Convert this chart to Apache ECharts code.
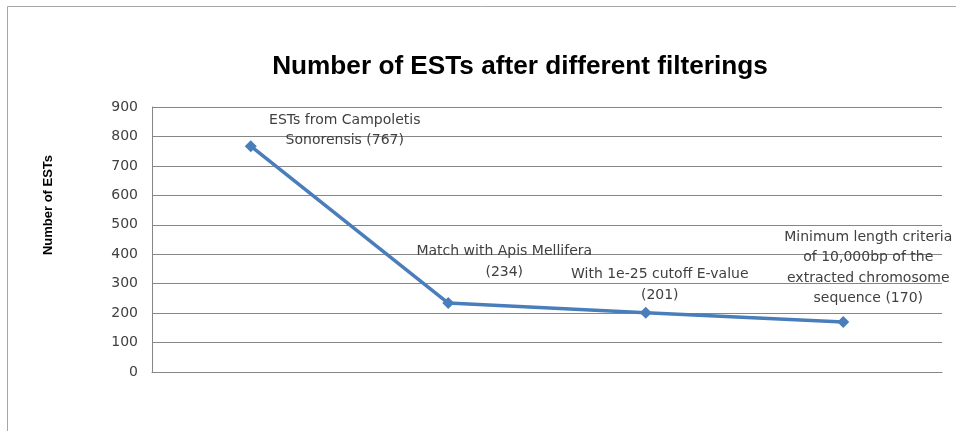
<!DOCTYPE html>
<html>
<head>
<meta charset="utf-8">
<script src="https://cdn.jsdelivr.net/npm/echarts@6/dist/echarts.min.js"></script>
<style>
  html, body { margin: 0; padding: 0; background: #fff; }
  #chart { width: 956px; height: 431px; }
</style>
</head>
<body>
<div id="chart"></div>
<script>
// Filtering stages, EST counts remaining after each stage
const stages = [
  'ESTs from Campoletis\nSonorensis',
  'Match with Apis Mellifera',
  'With 1e-25 cutoff E-value',
  'Minimum length criteria\nof 10,000bp of the\nextracted chromosome\nsequence'
];
const estCounts = [767, 234, 201, 170];
const pointLabels = [
  'ESTs from Campoletis\nSonorensis (767)',
  'Match with Apis Mellifera\n(234)',
  'With 1e-25 cutoff E-value\n(201)',
  'Minimum length criteria\nof 10,000bp of the\nextracted chromosome\nsequence (170)'
];
const yTicks = [0, 100, 200, 300, 400, 500, 600, 700, 800, 900];

// where each point's caption sits relative to its marker
const captionShift = [[94, -16], [56, -41], [14, -28], [25, -54]];

const chart = echarts.init(document.getElementById('chart'));

const seriesData = estCounts.map((v, i) => ({
  value: v,
  label: {
    show: true,
    position: 'inside',
    offset: captionShift[i],
    formatter: () => pointLabels[i]
  }
}));

chart.setOption({
  animation: false,
  backgroundColor: '#ffffff',
  title: {
    text: 'Number of ESTs after different filterings',
    left: 515,
    top: 49,
    textAlign: 'center',
    textStyle: {
      fontFamily: '"Liberation Sans", sans-serif',
      fontWeight: 'bold',
      fontSize: 26.2,
      color: '#000000'
    }
  },
  grid: { left: 152, right: 14, top: 107, bottom: 59, containLabel: false },
  xAxis: {
    type: 'category',
    data: stages,
    boundaryGap: true,
    axisLine: { show: true, lineStyle: { color: '#868686', width: 1 } },
    axisTick: { show: false },
    axisLabel: { show: false },
    splitLine: { show: false }
  },
  yAxis: {
    type: 'value',
    min: yTicks[0],
    max: yTicks[yTicks.length - 1],
    interval: 100,
    axisLine: { show: true, lineStyle: { color: '#868686', width: 1 } },
    axisTick: { show: false },
    axisLabel: {
      margin: 14,
      fontFamily: '"DejaVu Sans", sans-serif',
      fontSize: 14,
      color: '#404040'
    },
    splitLine: { show: true, lineStyle: { color: '#868686', width: 1 } }
  },
  series: [{
    type: 'line',
    data: seriesData,
    symbol: 'diamond',
    symbolSize: 12,
    lineStyle: { color: '#4a7ebb', width: 3.5 },
    itemStyle: { color: '#4a7ebb' },
    label: {
      fontFamily: '"DejaVu Sans", sans-serif',
      fontSize: 14,
      lineHeight: 20.5,
      color: '#404040',
      align: 'center',
      verticalAlign: 'middle'
    }
  }],
  graphic: [
    // outer frame (top and left edges)
    { type: 'line', shape: { x1: 7.5, y1: 6.5, x2: 956, y2: 6.5 }, style: { stroke: '#a6a6a6', lineWidth: 1 } },
    { type: 'line', shape: { x1: 7.5, y1: 6.5, x2: 7.5, y2: 431 }, style: { stroke: '#a6a6a6', lineWidth: 1 } },
    // rotated y-axis title
    {
      type: 'text',
      x: 48,
      y: 205,
      rotation: Math.PI / 2,
      style: {
        text: 'Number of ESTs',
        fontFamily: '"Liberation Sans", sans-serif',
        fontWeight: 'bold',
        fontSize: 13,
        fill: '#000000',
        align: 'center',
        verticalAlign: 'middle'
      }
    }
  ]
});
</script>
</body>
</html>
